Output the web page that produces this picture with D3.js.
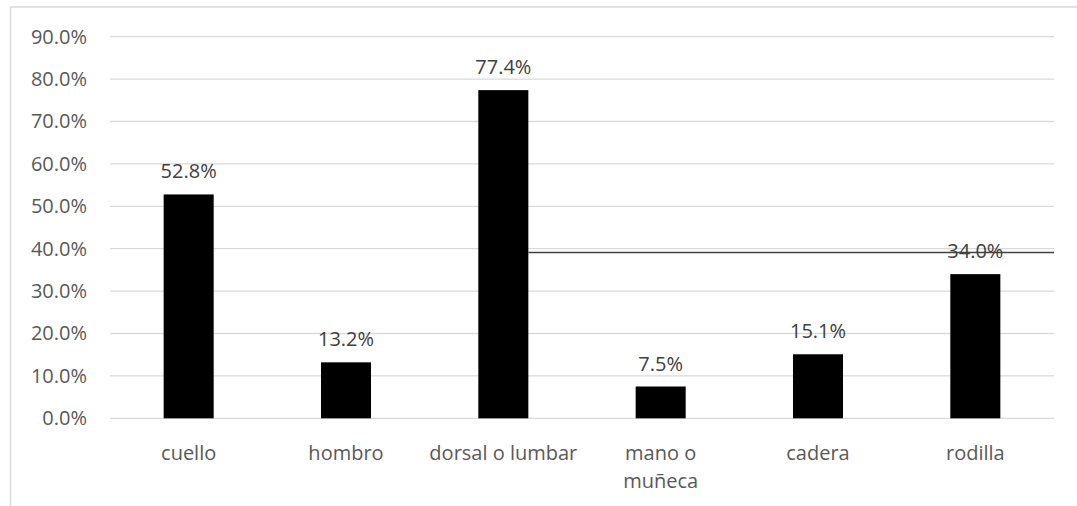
<!DOCTYPE html>
<html>
<head>
<meta charset="utf-8">
<script src="https://cdn.jsdelivr.net/npm/d3@7/dist/d3.min.js"></script>
<style>
  html, body { margin: 0; padding: 0; background: #fff; }
  svg { display: block; }
  text { font-family: "Open Sans", "DejaVu Sans", sans-serif; }
</style>
</head>
<body>
<svg id="chart" width="1077" height="506"></svg>
<script>
// Body regions and share of respondents reporting pain
const categories = ["cuello", "hombro", "dorsal o lumbar", "mano o\nmuñeca", "cadera", "rodilla"];
const values = [0.528, 0.132, 0.774, 0.075, 0.151, 0.340];
const tickValues = [0, 0.1, 0.2, 0.3, 0.4, 0.5, 0.6, 0.7, 0.8, 0.9];
// Stray horizontal rule that runs from the third bar to the right edge
const ruleValue = 0.391;

const W = 1077, H = 506;
const margin = { left: 110, right: 23, top: 36.7, bottom: 87.7 };
const fontSize = 20;
const svg = d3.select("#chart");

// Outer chart frame (top and left edges visible)
svg.append("rect")
  .attr("x", 10.5).attr("y", 7)
  .attr("width", W + 10).attr("height", H + 10)
  .attr("fill", "none").attr("stroke", "#d9d9d9").attr("stroke-width", 1.5);

const x = d3.scaleBand()
  .domain(categories)
  .range([margin.left, W - margin.right])
  .paddingInner(0.682).paddingOuter(0.341);

const y = d3.scaleLinear()
  .domain([0, 0.9])
  .range([H - margin.bottom, margin.top]);

const pct = d3.format(".1%");

// Gridlines
svg.append("g")
  .selectAll("line")
  .data(tickValues)
  .join("line")
  .attr("x1", margin.left).attr("x2", W - margin.right)
  .attr("y1", d => y(d)).attr("y2", d => y(d))
  .attr("stroke", "#d9d9d9").attr("stroke-width", 1.3);

// Y axis labels
const yAxis = d3.axisLeft(y).tickValues(tickValues).tickFormat(pct).tickSize(0).tickPadding(0);
const gy = svg.append("g").attr("transform", `translate(${87},0)`).call(yAxis);
gy.select(".domain").remove();
gy.selectAll("text")
  .attr("fill", "#595959").attr("font-size", fontSize)
  .attr("font-family", '"Open Sans", sans-serif');

// Bars
svg.append("g")
  .selectAll("rect")
  .data(values)
  .join("rect")
  .attr("x", (d, i) => x(categories[i]))
  .attr("y", d => y(d))
  .attr("width", x.bandwidth())
  .attr("height", d => y(0) - y(d))
  .attr("fill", "#000");

// Horizontal rule
const iDorsal = 2;
svg.append("line")
  .attr("x1", x(categories[iDorsal]) + x.bandwidth())
  .attr("x2", W - margin.right)
  .attr("y1", y(ruleValue)).attr("y2", y(ruleValue))
  .attr("stroke", "#404040").attr("stroke-width", 1.5);

// Value labels
svg.append("g")
  .selectAll("text")
  .data(values)
  .join("text")
  .attr("x", (d, i) => x(categories[i]) + x.bandwidth() / 2)
  .attr("y", d => y(d) - 16)
  .attr("text-anchor", "middle")
  .attr("fill", "#404040").attr("font-size", fontSize)
  .text(d => pct(d));

// Category labels (wrapped on newline)
const cat = svg.append("g")
  .selectAll("text")
  .data(categories)
  .join("text")
  .attr("x", d => x(d) + x.bandwidth() / 2)
  .attr("y", 460)
  .attr("text-anchor", "middle")
  .attr("fill", "#595959").attr("font-size", fontSize);
cat.each(function(d) {
  const t = d3.select(this);
  d.split("\n").forEach((line, k) => {
    t.append("tspan")
      .attr("x", x(d) + x.bandwidth() / 2)
      .attr("dy", k === 0 ? 0 : 28)
      .text(line);
  });
});
</script>
</body>
</html>
